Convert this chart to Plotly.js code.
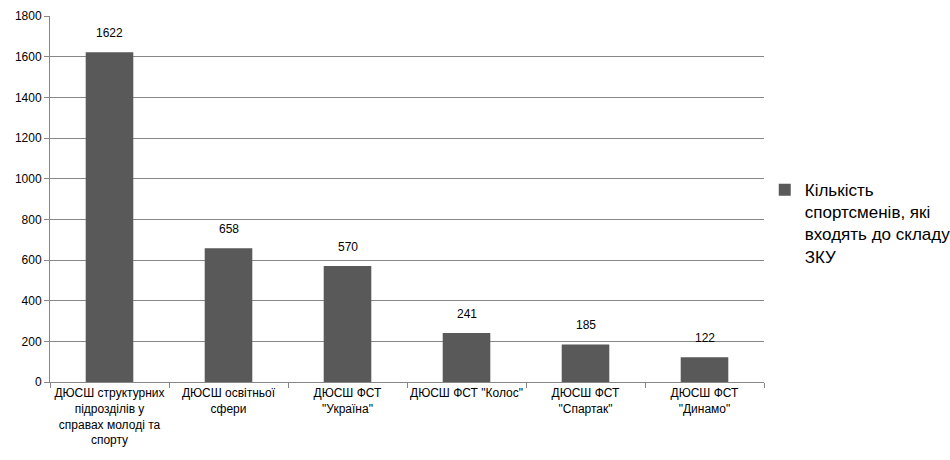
<!DOCTYPE html>
<html>
<head>
<meta charset="utf-8">
<script src="https://cdn.plot.ly/plotly-3.0.1.min.js"></script>
<style>html,body{margin:0;padding:0;background:#fff;}#chart{width:950px;height:460px;}</style>
</head>
<body>
<div id="chart"></div>
<script>
const categories = [
  'ДЮСШ структурних<br>підрозділів у<br>справах молоді та<br>спорту',
  'ДЮСШ освітньої<br>сфери',
  'ДЮСШ ФСТ<br>"Україна"',
  'ДЮСШ ФСТ "Колос"',
  'ДЮСШ ФСТ<br>"Спартак"',
  'ДЮСШ ФСТ<br>"Динамо"'
];
const values = [1622, 658, 570, 241, 185, 122];
const seriesName = 'Кількість<br>спортсменів, які<br>входять до складу<br>ЗКУ';
const yTicks = [0, 200, 400, 600, 800, 1000, 1200, 1400, 1600, 1800];

const font = "'Liberation Sans', Arial, sans-serif";
const gridColor = '#878787';

const trace = {
  type: 'bar',
  x: categories,
  y: values,
  name: seriesName,
  marker: {color: '#595959'},
  width: 0.4,
  showlegend: true,
  hoverinfo: 'skip'
};

const annotations = values.map((v, i) => ({
  x: categories[i], y: v, text: String(v),
  showarrow: false, yanchor: 'bottom', yshift: 10,
  font: {family: font, size: 12, color: '#000'}
}));

const layout = {
  width: 950, height: 460,
  margin: {l: 50, r: 186, t: 16, b: 78},
  paper_bgcolor: '#fff', plot_bgcolor: '#fff',
  font: {family: font, size: 12, color: '#000'},
  xaxis: {
    type: 'category',
    showline: true, linecolor: gridColor, linewidth: 1,
    ticks: 'outside', tickson: 'boundaries', ticklen: 5, tickcolor: gridColor,
    tickangle: 0,
    showgrid: false, zeroline: false,
    tickfont: {family: font, size: 12, color: '#000'},
    automargin: false
  },
  yaxis: {
    range: [0, 1800],
    tickvals: yTicks,
    showline: true, linecolor: gridColor, linewidth: 1,
    ticks: 'outside', ticklen: 5, tickcolor: gridColor,
    showgrid: true, gridcolor: gridColor, gridwidth: 1,
    zeroline: false,
    tickfont: {family: font, size: 12, color: '#000'},
    automargin: false
  },
  legend: {
    xref: 'container', yref: 'container',
    x: 0.805, xanchor: 'left', y: 0.515, yanchor: 'middle',
    valign: 'top',
    font: {family: font, size: 17, color: '#000'},
    itemwidth: 30, tracegroupgap: 0
  },
  annotations: annotations
};

Plotly.newPlot('chart', [trace], layout, {displayModeBar: false, staticPlot: true});
</script>
</body>
</html>
